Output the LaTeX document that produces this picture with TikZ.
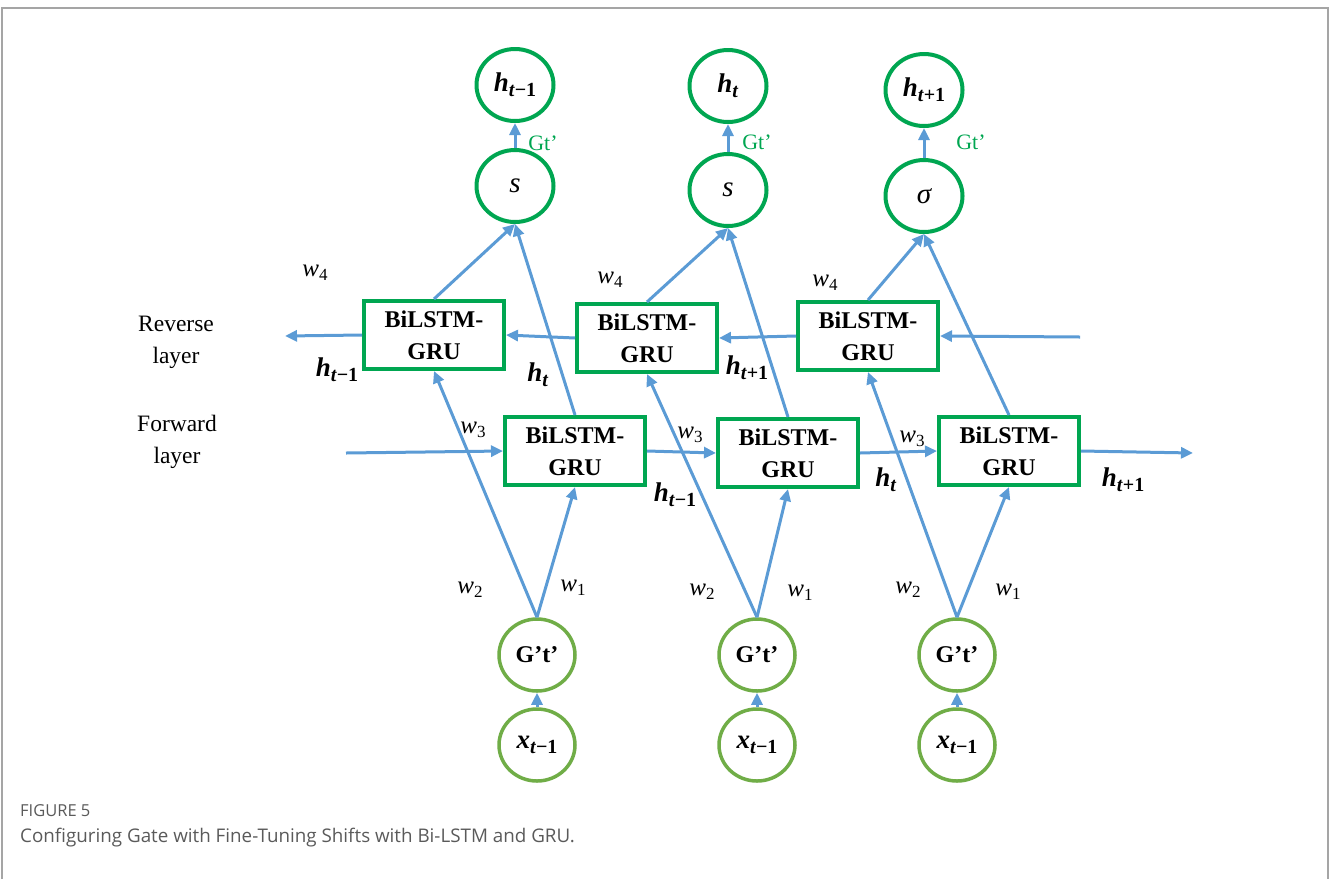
\documentclass[tikz,border=0pt]{standalone}
\usepackage{fontspec}
\setmainfont{Liberation Serif}
\newfontfamily\capfont{Open Sans}
\usetikzlibrary{arrows.meta,shapes.geometric}
\definecolor{dgreen}{RGB}{0,166,81}
\definecolor{lgreen}{RGB}{112,173,71}
\definecolor{ablue}{RGB}{91,155,213}
\definecolor{capgray}{RGB}{90,90,90}
\definecolor{framegray}{RGB}{165,165,165}
\newcommand\bsub[2]{{\fontsize{27}{30}\selectfont\bfseries\itshape #1}\raisebox{-5pt}{\fontsize{20}{22}\selectfont\bfseries #2}}
\newcommand\wsub[1]{{\fontsize{25}{28}\selectfont\itshape w}\raisebox{-4.5pt}{\fontsize{17}{20}\selectfont #1}}
\newcommand\tm{\textit{t}−1}
\newcommand\tp{\textit{t}+1}
\tikzset{
  hc/.style={ellipse, draw=dgreen, line width=4pt, minimum width=77pt, minimum height=72pt, inner sep=0pt, fill=white, font=\fontsize{24}{28}\selectfont},
  bc/.style={ellipse, draw=lgreen, line width=3.5pt, minimum width=76pt, minimum height=72pt, inner sep=0pt, fill=white, font=\fontsize{24}{28}\selectfont},
  cell/.style={rectangle, draw=dgreen, line width=4pt, minimum width=140pt, minimum height=68pt, inner sep=0pt, fill=white, align=center, font=\bfseries\fontsize{24}{32}\selectfont},
  arr/.style={draw=ablue, line width=3pt, -{Triangle[length=12pt,width=11pt]}},
  lab/.style={inner sep=0pt},
  side/.style={inner sep=0pt, align=center, font=\fontsize{23.5}{32}\selectfont},
  gt/.style={inner sep=0pt, text=dgreen, font=\fontsize{22}{26}\selectfont}
}
\begin{document}
\begin{tikzpicture}[x=1pt,y=-1pt]
\useasboundingbox (0,0) rectangle (1330,879);
\draw[framegray, line width=1.2pt] (2,879) -- (2,8) -- (1328,8) -- (1328,879);

% top circles
\node[hc] (h1) at (515,85) {\bsub{h}{\tm}};
\node[hc] (h2) at (728,86) {\bsub{h}{\textit{t}}};
\node[hc] (h3) at (924,90) {\bsub{h}{\tp}};
\node[hc, font=\fontsize{29}{30}\selectfont\itshape] (s1) at (515,186) {s};
\node[hc, font=\fontsize{29}{30}\selectfont\itshape] (s2) at (728,190) {s};
\node[hc, font=\fontsize{29}{30}\selectfont\itshape] (s3) at (924,196) {σ};

% boxes
\node[cell] (r1) at (434,335) {BiLSTM-\\GRU};
\node[cell] (r2) at (647,338) {BiLSTM-\\GRU};
\node[cell] (r3) at (868,336) {BiLSTM-\\GRU};
\node[cell] (f1) at (575,451) {BiLSTM-\\GRU};
\node[cell] (f2) at (788,453) {BiLSTM-\\GRU};
\node[cell] (f3) at (1009,451) {BiLSTM-\\GRU};

% bottom circles
\node[bc] (g1) at (537,655) {\bfseries G’t’};
\node[bc] (g2) at (757,655) {\bfseries G’t’};
\node[bc] (g3) at (957,655) {\bfseries G’t’};
\node[bc] (x1) at (537,745) {\bsub{x}{\tm}};
\node[bc] (x2) at (757,745) {\bsub{x}{\tm}};
\node[bc] (x3) at (957,745) {\bsub{x}{\tm}};

% free ends
\coordinate (rin) at (1080,337);
\coordinate (rout) at (285,336);
\coordinate (fin) at (346,453);
\coordinate (fout) at (1193,453);

% reverse layer
\draw[arr] (rin) -- (r3.east);
\draw[arr] (r3.west) -- (r2.east);
\draw[arr] (r2.west) -- (r1.east);
\draw[arr] (r1.west) -- (rout);
% forward layer
\draw[arr] (fin) -- (f1.west);
\draw[arr] (f1.east) -- (f2.west);
\draw[arr] (f2.east) -- (f3.west);
\draw[arr] (f3.east) -- (fout);

% columns
\foreach \i in {1,2,3}{
  \draw[arr] (x\i.north) -- (g\i.south);
  \draw[arr] (g\i.north) -- (f\i.south);
  \draw[arr] (g\i.north) -- (r\i.south);
  \draw[arr] (f\i.north) -- (s\i.south);
  \draw[arr] (r\i.north) -- (s\i.south);
  \draw[arr] (s\i.north) -- (h\i.south);
}

% Gt' labels
\node[gt] (gt1) at (543,143) {Gt’};
\node[gt] (gt2) at (757,142) {Gt’};
\node[gt] (gt3) at (971,142) {Gt’};

% weights
\node[lab] (w4a) at (315,273) {\wsub{4}};
\node[lab] (w4b) at (610,280) {\wsub{4}};
\node[lab] (w4c) at (825,283) {\wsub{4}};
\node[lab] (w3a) at (473,430) {\wsub{3}};
\node[lab] (w3b) at (690,435) {\wsub{3}};
\node[lab] (w3c) at (912,439) {\wsub{3}};
\node[lab] (w2a) at (470,590) {\wsub{2}};
\node[lab] (w2b) at (702,592) {\wsub{2}};
\node[lab] (w2c) at (908,590) {\wsub{2}};
\node[lab] (w1a) at (573,588) {\wsub{1}};
\node[lab] (w1b) at (800,593) {\wsub{1}};
\node[lab] (w1c) at (1008,592) {\wsub{1}};

% hidden state labels
\node[lab] (hr1) at (337,370) {\bsub{h}{\tm}};
\node[lab] (hr2) at (538,375) {\bsub{h}{\textit{t}}};
\node[lab] (hr3) at (747,368) {\bsub{h}{\tp}};
\node[lab] (hf1) at (675,495) {\bsub{h}{\tm}};
\node[lab] (hf2) at (886,480) {\bsub{h}{\textit{t}}};
\node[lab] (hf3) at (1123,480) {\bsub{h}{\tp}};

% side labels
\node[side] (rev) at (176,342) {Reverse\\layer};
\node[side] (fwd) at (177,442) {Forward\\layer};

% caption
\node[anchor=base west, inner sep=0pt, text=capgray, font=\capfont\fontsize{16.5}{18}\selectfont] (fig) at (20,816) {FIGURE 5};
\node[anchor=base west, inner sep=0pt, text=capgray, font=\capfont\fontsize{18.8}{22}\selectfont] (cap) at (20,842) {Configuring Gate with Fine-Tuning Shifts with Bi-LSTM and GRU.};
\end{tikzpicture}
\end{document}
